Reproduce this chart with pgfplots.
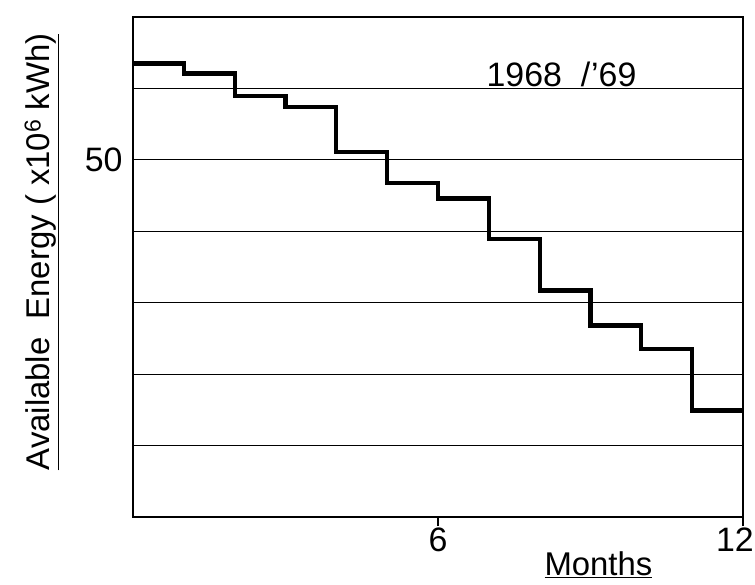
\documentclass[border=0pt]{standalone}
\usepackage{pgfplots}
\pgfplotsset{compat=1.18}
\usepackage{fontspec}
\setmainfont{Liberation Sans}
\newcommand{\bigf}{\fontsize{33}{35}\selectfont}
\begin{document}
\begin{tikzpicture}
\useasboundingbox (-133bp,-68bp) rectangle (622bp,517bp);
\begin{axis}[
  width=610bp, height=500bp, scale only axis,
  at={(0,0)}, anchor=south west,
  xmin=0, xmax=12, ymin=0, ymax=70,
  axis line style={line width=3pt, black},
  xtick={6,12}, ytick={10,20,30,40,50,60},
  xticklabels={6,{\hspace*{-16bp}12}},
  yticklabels={,,,,50,},
  xtick pos=bottom, ytick pos=left,
  tick align=outside, major tick length=9bp,
  xtick style={black, line width=2.2pt},
  ytick style={draw=none},
  ymajorgrids, grid style={line width=1pt, black},
  ticklabel style={font=\fontsize{34}{34}\selectfont},
  /pgf/number format/assume math mode=true,
  yticklabel style={xshift=2bp},
  xticklabel style={yshift=2bp},
  xlabel={\underline{Months}},
  xlabel style={font=\fontsize{33}{35}\selectfont, at={(axis description cs:0.763,-0.096)}, anchor=center},
  ylabel={\underline{Available\ \ Energy ( x10\textsuperscript{6} kWh)}},
  ylabel style={font=\bigf, at={(axis description cs:-0.15,0.53)}, anchor=center},
  clip=false,
]
\addplot[const plot, line width=4.2pt, black] coordinates {
  (0,63.5) (1,62.1) (2,58.9) (3,57.4) (4,51.1) (5,46.8)
  (6,44.6) (7,38.9) (8,31.7) (9,26.8) (10,23.5) (11,14.9) (12,14.9)
};
\node[font=\fontsize{34}{36}\selectfont, anchor=base] at (axis cs:8.43,60.3) {1968\ \ /\kern1pt'69};
\end{axis}
\end{tikzpicture}
\end{document}
